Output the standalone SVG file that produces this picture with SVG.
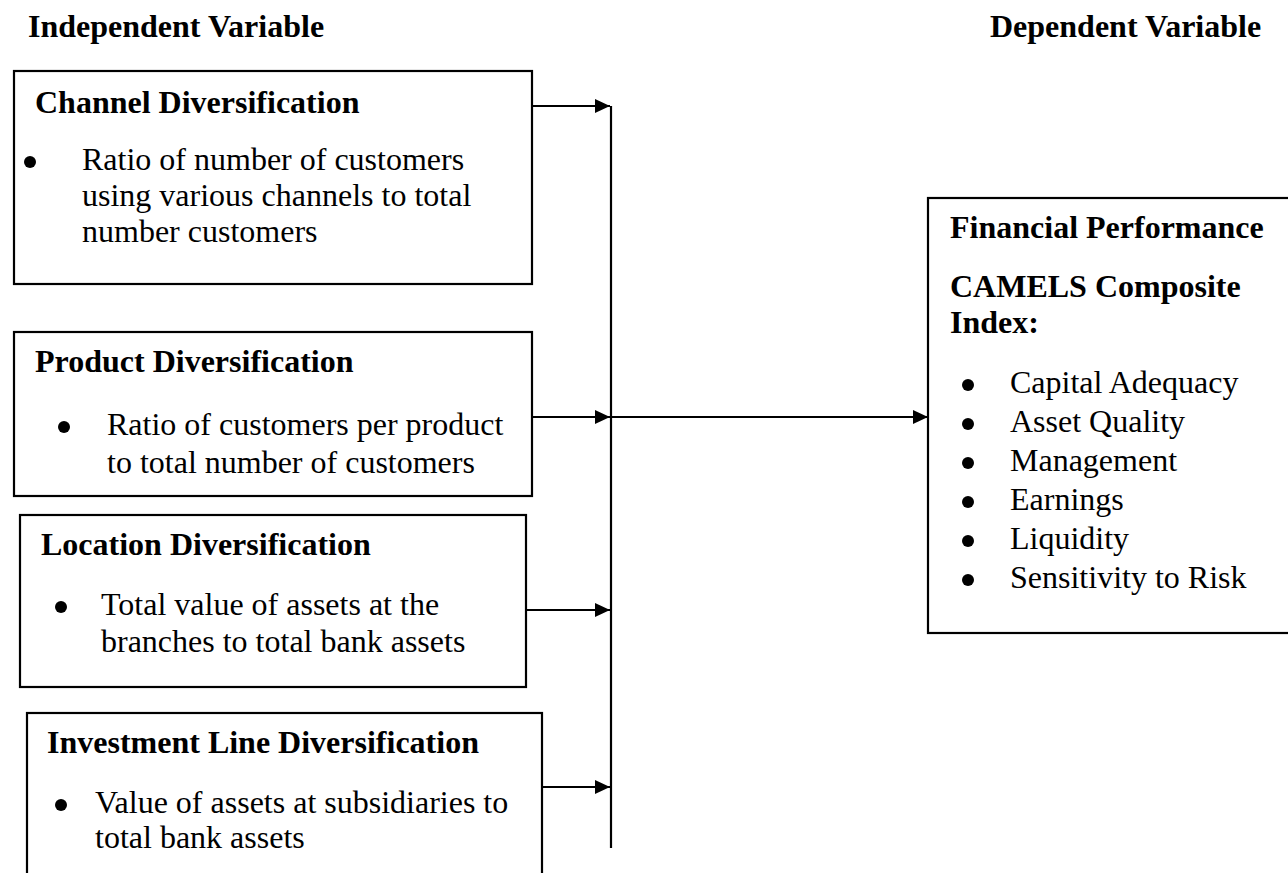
<svg xmlns="http://www.w3.org/2000/svg" width="1288" height="873" viewBox="0 0 1288 873">
<style>
.box{fill:#fff;stroke:#000;stroke-width:2.2}
.h{font-family:"Liberation Serif","Times New Roman",serif;font-size:32px;font-weight:bold;fill:#000}
.t{font-family:"Liberation Serif","Times New Roman",serif;font-size:32px;fill:#000}
.b{fill:#000}
.c{stroke:#000;stroke-width:2.2;fill:none}
</style>
<defs>
<marker id="ah" markerWidth="15" markerHeight="14" refX="15" refY="7" orient="auto" markerUnits="userSpaceOnUse">
<path d="M0,0 L15,7 L0,14 Z" fill="#000"/>
</marker>
</defs>
<rect width="1288" height="873" fill="#fff"/>
<g id="headers">
<text class="h" x="28" y="37">Independent Variable</text>
<text class="h" x="990" y="37">Dependent Variable</text>
</g>
<g id="channel">
<rect class="box" x="14" y="71" width="518" height="213"/>
<text class="h" x="35" y="113">Channel Diversification</text>
<circle class="b" cx="30" cy="162" r="6"/>
<text class="t" x="82" y="170">Ratio of number of customers</text>
<text class="t" x="82" y="206">using various channels to total</text>
<text class="t" x="82" y="242">number customers</text>
</g>
<g id="product">
<rect class="box" x="14" y="332" width="518" height="164"/>
<text class="h" x="35" y="372">Product Diversification</text>
<circle class="b" cx="64" cy="427" r="6"/>
<text class="t" x="107" y="435">Ratio of customers per product</text>
<text class="t" x="107" y="473">to total number of customers</text>
</g>
<g id="location">
<rect class="box" x="20" y="515" width="506" height="172"/>
<text class="h" x="41" y="555">Location Diversification</text>
<circle class="b" cx="61" cy="607" r="6"/>
<text class="t" x="101" y="615">Total value of assets at the</text>
<text class="t" x="101" y="652">branches to total bank assets</text>
</g>
<g id="investment">
<rect class="box" x="27" y="713" width="515" height="180"/>
<text class="h" x="47" y="753">Investment Line Diversification</text>
<circle class="b" cx="61" cy="805" r="6"/>
<text class="t" x="95" y="813">Value of assets at subsidiaries to</text>
<text class="t" x="95" y="848">total bank assets</text>
</g>
<g id="performance">
<rect class="box" x="928" y="198" width="380" height="435"/>
<text class="h" x="950" y="238">Financial Performance</text>
<text class="h" x="950" y="297">CAMELS Composite</text>
<text class="h" x="950" y="333">Index:</text>
<g class="b">
<circle cx="968" cy="385" r="6"/>
<circle cx="968" cy="424" r="6"/>
<circle cx="968" cy="463" r="6"/>
<circle cx="968" cy="502" r="6"/>
<circle cx="968" cy="541" r="6"/>
<circle cx="968" cy="580" r="6"/>
</g>
<g class="t">
<text x="1010" y="393">Capital Adequacy</text>
<text x="1010" y="432">Asset Quality</text>
<text x="1010" y="471">Management</text>
<text x="1010" y="510">Earnings</text>
<text x="1010" y="549">Liquidity</text>
<text x="1010" y="588">Sensitivity to Risk</text>
</g>
</g>
<g id="connectors">
<line class="c" x1="611" y1="106" x2="611" y2="848"/>
<line class="c" x1="532" y1="106" x2="610" y2="106" marker-end="url(#ah)"/>
<line class="c" x1="532" y1="417" x2="610" y2="417" marker-end="url(#ah)"/>
<line class="c" x1="526" y1="610" x2="610" y2="610" marker-end="url(#ah)"/>
<line class="c" x1="542" y1="787" x2="610" y2="787" marker-end="url(#ah)"/>
<line class="c" x1="612" y1="417" x2="928" y2="417" marker-end="url(#ah)"/>
</g>
</svg>
